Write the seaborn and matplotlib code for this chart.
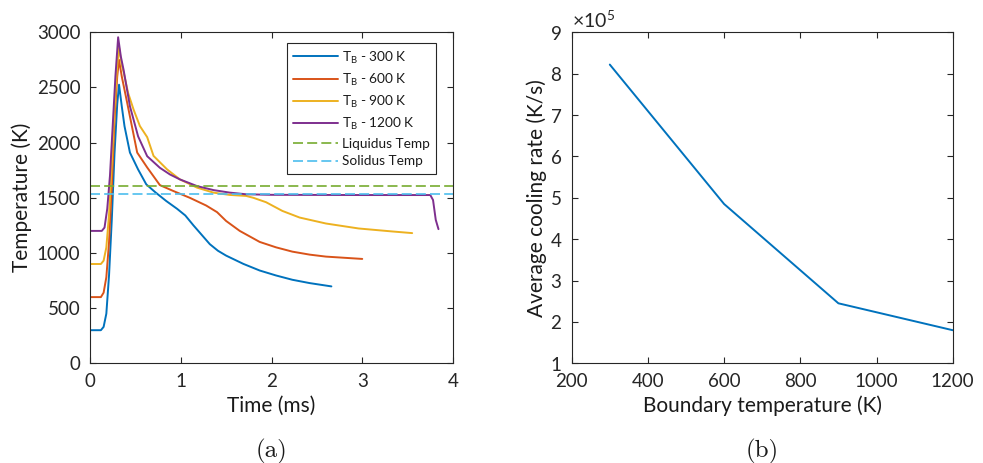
import numpy as np
import pandas as pd
import matplotlib
matplotlib.use("Agg")
import matplotlib.pyplot as plt
import seaborn as sns

# ---------------- data: panel (a) ----------------
t_300 = [0, 0.12, 0.15, 0.18, 0.21, 0.24, 0.27, 0.30, 0.32, 0.35, 0.38, 0.44, 0.53, 0.62, 0.72,
         0.84, 0.96, 1.05, 1.14, 1.23, 1.32, 1.41, 1.50, 1.69, 1.87, 2.05, 2.23, 2.42, 2.66]
T_300 = [300, 300, 330, 450, 800, 1300, 1900, 2350, 2525, 2330, 2150, 1910, 1757, 1622, 1550,
         1471, 1400, 1340, 1250, 1165, 1080, 1020, 976, 901, 841, 796, 757, 727, 697]

t_600 = [0, 0.12, 0.15, 0.18, 0.21, 0.24, 0.27, 0.30, 0.32, 0.35, 0.41, 0.52, 0.63, 0.77, 0.92,
         1.10, 1.28, 1.40, 1.50, 1.65, 1.87, 2.05, 2.23, 2.42, 2.60, 3.00]
T_600 = [600, 600, 640, 780, 1100, 1600, 2200, 2600, 2750, 2600, 2360, 1910, 1775, 1615, 1561,
         1500, 1430, 1370, 1290, 1200, 1100, 1051, 1012, 985, 967, 946]

t_900 = [0, 0.12, 0.15, 0.18, 0.21, 0.24, 0.27, 0.30, 0.32, 0.35, 0.37, 0.42, 0.48, 0.55, 0.63,
         0.70, 0.85, 0.99, 1.18, 1.36, 1.54, 1.72, 1.80, 1.94, 2.12, 2.31, 2.60, 2.96, 3.33, 3.55]
T_900 = [900, 900, 930, 1050, 1350, 1800, 2300, 2700, 2860, 2700, 2640, 2450, 2300, 2150, 2050,
         1880, 1757, 1667, 1592, 1547, 1526, 1517, 1500, 1460, 1381, 1321, 1267, 1222, 1195, 1180]

t_1200 = [0, 0.13, 0.16, 0.19, 0.22, 0.25, 0.28, 0.31, 0.34, 0.37, 0.44, 0.53, 0.63, 0.77, 0.88,
          0.99, 1.18, 1.36, 1.54, 1.72, 2.00, 3.00, 3.75, 3.78, 3.81, 3.84]
T_1200 = [1200, 1200, 1230, 1400, 1700, 2150, 2600, 2955, 2780, 2660, 2330, 2057, 1877, 1772, 1712,
          1667, 1606, 1570, 1547, 1532, 1527, 1525, 1525, 1480, 1300, 1216]

liquidus_T = 1610
solidus_T = 1535

series_labels = [r"T$_\mathregular{B}$ - 300 K", r"T$_\mathregular{B}$ - 600 K",
                 r"T$_\mathregular{B}$ - 900 K", r"T$_\mathregular{B}$ - 1200 K"]
line_labels = ["Liquidus Temp", "Solidus Temp"]

# ---------------- data: panel (b) ----------------
boundary_T = [300, 600, 900, 1200]
cooling_rate = [8.22e5, 4.85e5, 2.45e5, 1.80e5]

# ---------------- style ----------------
sns.set_style("ticks")
FONT = "Lato"
plt.rcParams["font.family"] = [FONT, "DejaVu Sans"]
plt.rcParams["mathtext.fontset"] = "custom"
plt.rcParams["mathtext.rm"] = FONT
plt.rcParams["axes.edgecolor"] = "#262626"
plt.rcParams["xtick.color"] = "#262626"
plt.rcParams["ytick.color"] = "#262626"
plt.rcParams["text.color"] = "#1a1a1a"
plt.rcParams["axes.labelcolor"] = "#1a1a1a"

colors = ["#0072BD", "#D95319", "#EDB120", "#7E2F8E"]
c_liq = "#77AC30"
c_sol = "#4DBEEE"

W, H = 983, 463
fig = plt.figure(figsize=(W / 100, H / 100), dpi=100)

ax1 = fig.add_axes([90 / W, (H - 363.3) / H, (453 - 90) / W, 331 / H])
ax2 = fig.add_axes([571.7 / W, (H - 363.3) / H, (952.7 - 571.7) / W, 331 / H])

frames = []
for t, T, lab in zip([t_300, t_600, t_900, t_1200], [T_300, T_600, T_900, T_1200], series_labels):
    frames.append(pd.DataFrame({"Time": t, "Temp": T, "case": lab}))
df = pd.concat(frames, ignore_index=True)

sns.lineplot(data=df, x="Time", y="Temp", hue="case", palette=colors, ax=ax1,
             sort=False, estimator=None, linewidth=1.4)
ax1.axhline(liquidus_T, color=c_liq, linestyle=(0, (6, 2.5)), linewidth=1.2, label=line_labels[0])
ax1.axhline(solidus_T, color=c_sol, linestyle=(0, (6, 2.5)), linewidth=1.2, label=line_labels[1])

ax1.set_xlim(0, 4)
ax1.set_ylim(0, 3000)
ax1.set_xticks([0, 1, 2, 3, 4])
ax1.set_yticks(np.arange(0, 3001, 500))
ax1.set_xlabel("Time (ms)", fontsize=15, labelpad=4)
ax1.set_ylabel("Temperature (K)", fontsize=15, labelpad=3)

handles, labels = ax1.get_legend_handles_labels()
leg = ax1.legend(handles, labels, loc="upper right", bbox_to_anchor=(0.973, 0.988),
                 fontsize=9.8, frameon=True, fancybox=False, edgecolor="#262626",
                 framealpha=1, handlelength=3.3, borderpad=0.45, labelspacing=0.42,
                 handletextpad=0.35)
leg.get_frame().set_linewidth(0.8)

sns.lineplot(x=boundary_T, y=cooling_rate, ax=ax2, color=colors[0], linewidth=1.4)
ax2.set_xlim(200, 1200)
ax2.set_ylim(1e5, 9e5)
ax2.set_xticks(np.arange(200, 1201, 200))
ax2.set_yticks(np.arange(1e5, 9.01e5, 1e5))
ax2.ticklabel_format(axis="y", style="sci", scilimits=(5, 5), useMathText=True)
ax2.yaxis.get_offset_text().set_fontsize(14)
ax2.set_xlabel("Boundary temperature (K)", fontsize=15, labelpad=4)
ax2.set_ylabel("Average cooling rate (K/s)", fontsize=15, labelpad=2)

for ax in (ax1, ax2):
    for s in ax.spines.values():
        s.set_linewidth(0.8)
        s.set_visible(True)
    ax.tick_params(direction="in", length=4, width=0.8, top=True, right=True,
                   labelsize=13.5, pad=7)

fig.text(ax1.get_position().x0 + ax1.get_position().width / 2, (H - 451) / H, "(a)",
         fontfamily="cmr10", fontsize=18, ha="center", va="center")
fig.text(ax2.get_position().x0 + ax2.get_position().width / 2, (H - 451) / H, "(b)",
         fontfamily="cmr10", fontsize=18, ha="center", va="center")

fig.savefig("out.png", dpi=100)
